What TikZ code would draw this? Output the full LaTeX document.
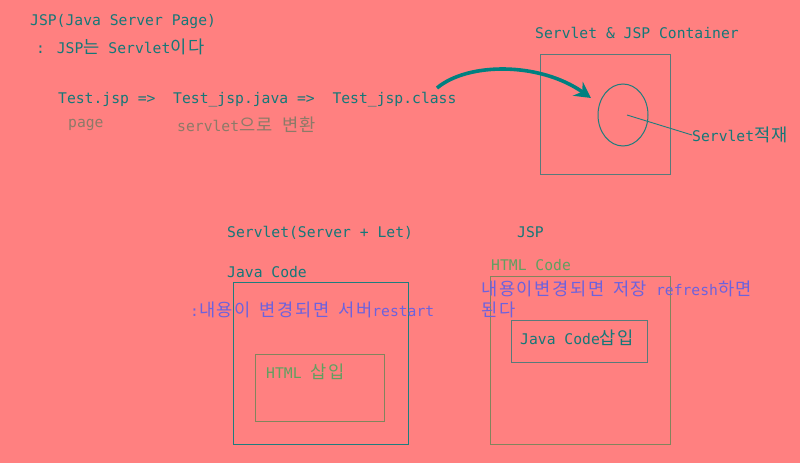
\documentclass[tikz,border=0pt]{standalone}
\usepackage{fontspec}
\usetikzlibrary{arrows.meta, shapes.geometric}
\newfontfamily\monofont{DejaVu Sans Mono}
\newfontfamily\krfont[Scale=1.2, LetterSpace=9]{Noto Sans CJK KR}
\newcommand{\kr}[1]{{\krfont #1}}
\definecolor{bgred}{RGB}{255,128,128}
\definecolor{tealtxt}{RGB}{20,120,120}
\definecolor{greytxt}{RGB}{140,122,104}
\definecolor{greentxt}{RGB}{96,160,96}
\definecolor{bluetxt}{RGB}{108,98,222}
\definecolor{tealline}{RGB}{30,125,125}
\definecolor{greyline}{RGB}{88,122,122}
\definecolor{oliveline}{RGB}{130,132,92}

\begin{document}
\begin{tikzpicture}[x=1pt, y=-1pt,
  txt/.style={anchor=west, inner sep=0pt, text=tealtxt,
    font=\monofont\fontsize{14.7}{17}\selectfont},
  box/.style={draw=#1, line width=1pt, anchor=north west, inner sep=0pt},
  flow/.style={draw=teal, line width=3.6pt, -{Stealth[length=16pt, width=17pt]}}]
\fill[bgred] (0,0) rectangle (800,463);
\useasboundingbox (0,0) rectangle (800,463);

\node[txt] (title) at (30,22) {JSP(Java Server Page)};
\node[txt] (claim) at (36,47) {: JSP\kr{는} Servlet\kr{이다}};
\node[txt] (chain) at (58,100) {Test.jsp => \ Test\_jsp.java => \ Test\_jsp.class};
\node[txt, text=greytxt] (page) at (68,125) {page};
\node[txt, text=greytxt] (conv) at (177,125) {servlet\kr{으로} \kr{변환}};

\node[txt] (contlbl) at (535,33) {Servlet \& JSP Container};
\node[box=greyline, minimum width=130, minimum height=120] (cont) at (539.5,53.5) {};
\node[draw=tealline, line width=1pt, ellipse, minimum width=50, minimum height=62,
  inner sep=0pt] (core) at (623,115) {};
\node[txt] (stack) at (692,135) {Servlet\kr{적재}};
\draw[tealline, line width=0.9pt] (core.center) ++(4,0) -- (stack.west);

\coordinate (flowin) at (437,88);
\coordinate (flowout) at (591,98);
\draw[flow] (flowin) .. controls (468,62) and (540,62) .. (flowout);

\node[txt] (servlbl) at (227,233) {Servlet(Server + Let)};
\node[txt] (javalbl) at (227,272) {Java Code};
\node[box=tealline, minimum width=175, minimum height=162] (servbox) at (232.5,281.5) {};
\node[box=oliveline, minimum width=129, minimum height=67] (htmlbox) at (254.5,353.5) {};
\node[txt, text=greentxt] (htmlin) at (266,372) {HTML \kr{삽입}};
\node[txt, text=bluetxt] (restart) at (190,310) {:\kr{내용이} \kr{변경되면} \kr{서버}restart};

\node[txt] (jsplbl) at (517,232) {JSP};
\node[txt, text=greentxt] (htmllbl) at (491,265) {HTML Code};
\node[box=oliveline, minimum width=180, minimum height=168] (jspbox) at (489.5,275.5) {};
\node[box=greyline, minimum width=136, minimum height=42] (javabox) at (510.5,319.5) {};
\node[txt] (javain) at (520,338) {Java Code\kr{삽입}};
\node[txt, text=bluetxt] (refresh) at (481,289) {\kr{내용이변경되면} \kr{저장} refresh\kr{하면}};
\node[txt, text=bluetxt] (done) at (481,310) {\kr{된다}};
\end{tikzpicture}
\end{document}
